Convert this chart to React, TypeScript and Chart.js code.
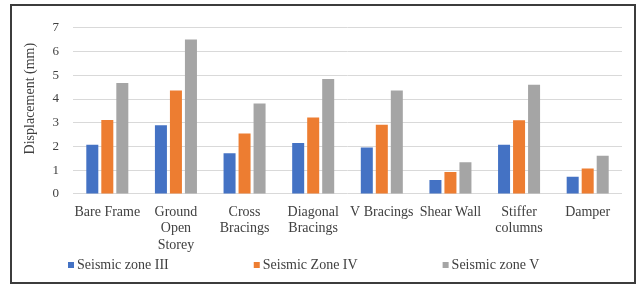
import React, { useEffect, useRef } from "react";
import { Chart, registerables } from "chart.js";

Chart.register(...registerables);

const categories: (string | string[])[] = [
  "Bare Frame",
  ["Ground", "Open", "Storey"],
  ["Cross", "Bracings"],
  ["Diagonal", "Bracings"],
  "V Bracings",
  "Shear Wall",
  ["Stiffer", "columns"],
  "Damper",
];

const seriesNames = ["Seismic zone III", "Seismic Zone IV", "Seismic zone V"];
const zoneIII = [2.07, 2.89, 1.71, 2.15, 1.96, 0.59, 2.07, 0.72];
const zoneIV = [3.12, 4.36, 2.55, 3.22, 2.92, 0.92, 3.1, 1.07];
const zoneV = [4.67, 6.51, 3.81, 4.84, 4.36, 1.34, 4.6, 1.61];
const yTicks = [0, 1, 2, 3, 4, 5, 6, 7];
const yTitle = "Displacement (mm)";

const COLORS = ["#4472C4", "#ED7D31", "#A5A5A5"];
const TEXT = "#404040";
const FONT = '"Liberation Serif", "Times New Roman", serif';

const legendPlugin = {
  id: "spreadLegend",
  afterDraw(chart: any) {
    const ctx = chart.ctx;
    ctx.save();
    ctx.font = `14px ${FONT}`;
    ctx.textBaseline = "middle";
    ctx.textAlign = "left";
    let x = 56;
    const y = chart.height - 17;
    chart.data.datasets.forEach((ds: any) => {
      ctx.fillStyle = ds.backgroundColor;
      ctx.fillRect(x, y - 3, 6, 6);
      ctx.fillStyle = TEXT;
      ctx.fillText(ds.label, x + 9, y);
      x += 9 + ctx.measureText(ds.label).width + 85;
    });
    ctx.restore();
  },
};

export default function App() {
  const ref = useRef<HTMLCanvasElement | null>(null);
  useEffect(() => {
    if (!ref.current) return;
    const data = [zoneIII, zoneIV, zoneV];
    const chart = new Chart(ref.current, {
      type: "bar",
      data: {
        labels: categories,
        datasets: data.map((d, i) => ({
          label: seriesNames[i],
          data: d,
          backgroundColor: COLORS[i],
          borderWidth: 0,
          categoryPercentage: 0.656,
          barPercentage: 0.8,
        })),
      },
      options: {
        responsive: false,
        animation: false,
        layout: { padding: { left: 0, right: 12, top: 18, bottom: 18.5 } },
        plugins: {
          legend: { display: false },
          tooltip: { enabled: false },
        },
        scales: {
          x: {
            grid: { display: false, drawTicks: false },
            border: { display: false },
            ticks: {
              color: TEXT,
              font: { family: FONT, size: 14, lineHeight: 1.18 },
              padding: 10,
              maxRotation: 0,
              autoSkip: false,
            },
          },
          y: {
            min: 0,
            max: 7,
            afterFit(scale: any) {
              scale.width = 61;
            },
            afterBuildTicks(scale: any) {
              scale.ticks = yTicks.map((v) => ({ value: v }));
            },
            grid: { color: "#d9d9d9", lineWidth: 1, drawTicks: false },
            border: { display: false },
            ticks: {
              color: TEXT,
              font: { family: FONT, size: 13 },
              padding: 14,
            },
            title: {
              display: true,
              text: "       " + yTitle,
              color: TEXT,
              font: { family: FONT, size: 14 },
              padding: { top: 9.6, bottom: 0 },
            },
          },
        },
      },
      plugins: [legendPlugin],
    });
    return () => chart.destroy();
  }, []);

  return (
    <div
      style={{
        position: "absolute",
        left: 10,
        top: 4,
        width: 622,
        height: 276,
        border: "2px solid #3c3c3c",
        background: "#fff",
      }}
    >
      <canvas ref={ref} width={622} height={276} style={{ display: "block" }} />
    </div>
  );
}
